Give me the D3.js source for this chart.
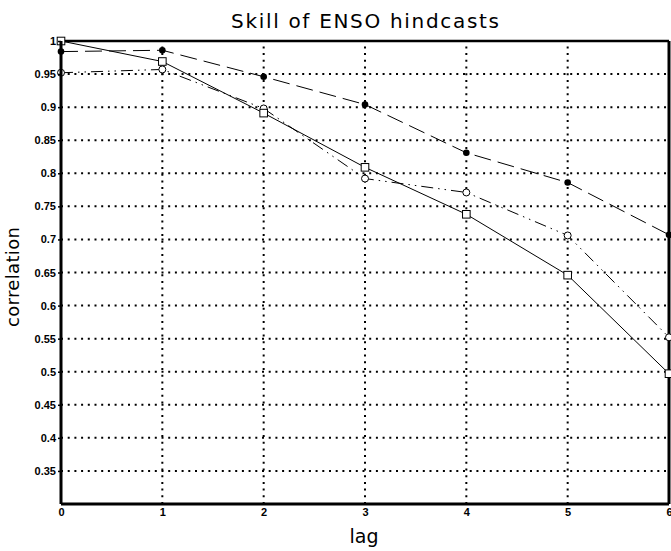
<!DOCTYPE html>
<html><head><meta charset="utf-8">
<script src="https://cdn.jsdelivr.net/npm/d3@7"></script>
<style>body{margin:0;background:#fff}svg{display:block}</style>
</head><body>
<script>
const lags = [0, 1, 2, 3, 4, 5, 6];
const filledDots = [0.984, 0.986, 0.946, 0.904, 0.831, 0.786, 0.707];
const openCircles = [0.952, 0.957, 0.898, 0.792, 0.771, 0.706, 0.552];
const squares = [1.0, 0.969, 0.891, 0.809, 0.738, 0.646, 0.497];
const yTicks = [0.35, 0.4, 0.45, 0.5, 0.55, 0.6, 0.65, 0.7, 0.75, 0.8, 0.85, 0.9, 0.95, 1];
const yTickLabels = ["0.35","0.4","0.45","0.5","0.55","0.6","0.65","0.7","0.75","0.8","0.85","0.9","0.95","1"];
const xTickLabels = ["0","1","2","3","4","5","6"];

const W = 671, H = 551;
const L = 61, R = 669, T = 41, B = 504;
const svg = d3.select("body").append("svg").attr("width", W).attr("height", H);
const x = d3.scaleLinear().domain([0, 6]).range([L, R]);
const y = d3.scaleLinear().domain([0.3, 1]).range([B, T]);

// grid
const g = svg.append("g");
g.selectAll("line.hg").data(yTicks.filter(v => v < 1)).join("line")
  .attr("x1", L).attr("x2", R).attr("y1", d => y(d)).attr("y2", d => y(d))
  .attr("stroke", "#000").attr("stroke-width", 2).attr("stroke-dasharray", "2,4.7");
g.selectAll("line.vg").data(lags.filter(v => v > 0 && v < 6)).join("line")
  .attr("y1", B).attr("y2", T).attr("x1", d => x(d)).attr("x2", d => x(d))
  .attr("stroke", "#000").attr("stroke-width", 2).attr("stroke-dasharray", "2,4.7");

// lines
const line = d3.line().x((d, i) => x(lags[i])).y(d => y(d));
svg.append("path").datum(filledDots).attr("d", line).attr("fill", "none")
  .attr("stroke", "#000").attr("stroke-width", 1).attr("stroke-dasharray", "17,7");
svg.append("path").datum(openCircles).attr("d", line).attr("fill", "none")
  .attr("stroke", "#000").attr("stroke-width", 1).attr("stroke-dasharray", "12,5,1.5,5,1.5,5");
svg.append("path").datum(squares).attr("d", line).attr("fill", "none")
  .attr("stroke", "#000").attr("stroke-width", 1);

// frame
svg.append("line").attr("x1", L).attr("x2", R).attr("y1", T).attr("y2", T).attr("stroke", "#000").attr("stroke-width", 2.5);
svg.append("line").attr("x1", R).attr("x2", R).attr("y1", T).attr("y2", B).attr("stroke", "#000").attr("stroke-width", 3);

// markers
svg.append("g").selectAll("circle").data(filledDots).join("circle")
  .attr("cx", (d, i) => x(lags[i])).attr("cy", d => y(d)).attr("r", 3.3).attr("fill", "#000");
svg.append("g").selectAll("circle").data(openCircles).join("circle")
  .attr("cx", (d, i) => x(lags[i])).attr("cy", d => y(d)).attr("r", 3.5)
  .attr("fill", "#fff").attr("stroke", "#000").attr("stroke-width", 1);
svg.append("g").selectAll("rect").data(squares).join("rect")
  .attr("x", (d, i) => x(lags[i]) - 3.8).attr("y", d => y(d) - 3.8).attr("width", 7.6).attr("height", 7.6)
  .attr("fill", "#fff").attr("stroke", "#000").attr("stroke-width", 1);

// axes
const yAxis = d3.axisLeft(y).tickValues(yTicks).tickFormat((d, i) => yTickLabels[i]).tickSize(3).tickPadding(2);
const ya = svg.append("g").attr("transform", `translate(${L},0)`).call(yAxis);
const xAxis = d3.axisBottom(x).tickValues(lags).tickFormat((d, i) => xTickLabels[i]).tickSize(0).tickPadding(4);
const xa = svg.append("g").attr("transform", `translate(0,${B})`).call(xAxis);
[ya, xa].forEach(a => {
  a.select(".domain").attr("stroke", "#000").attr("stroke-width", 3);
  a.selectAll("text").attr("font-family", "Liberation Sans, Arial, sans-serif").attr("font-size", 11)
    .attr("font-weight", "bold").attr("fill", "#000");
  a.selectAll(".tick line").attr("stroke", "#000").attr("stroke-width", 1.5);
});
ya.select(".domain").attr("d", `M0,${B}V${T}`);
xa.select(".domain").attr("d", `M${L},0H${R}`);

// titles
svg.append("text").attr("x", 365).attr("y", 28).attr("text-anchor", "middle")
  .attr("font-family", "DejaVu Sans, sans-serif").attr("font-size", 20)
  .attr("textLength", 268).attr("lengthAdjust", "spacing").text("Skill of ENSO hindcasts");
svg.append("text").attr("x", 364).attr("y", 543).attr("text-anchor", "middle")
  .attr("font-family", "DejaVu Sans, sans-serif").attr("font-size", 19).text("lag");
svg.append("text").attr("transform", "translate(19,277) rotate(-90)").attr("text-anchor", "middle")
  .attr("font-family", "DejaVu Sans, sans-serif").attr("font-size", 18)
  .attr("textLength", 100).attr("lengthAdjust", "spacing").text("correlation");
</script>
</body></html>
